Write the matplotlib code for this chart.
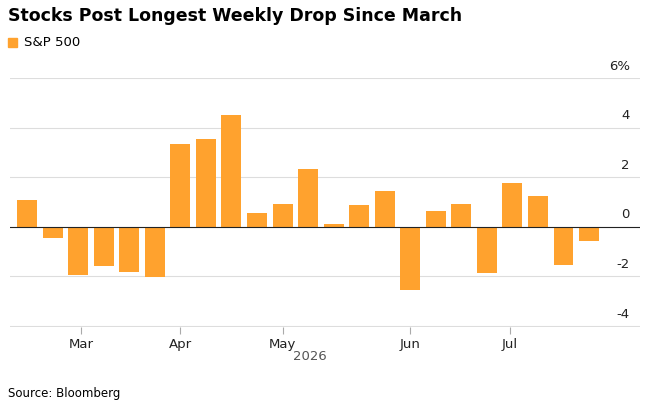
import matplotlib.pyplot as plt

weeks = ["Feb 20", "Feb 27", "Mar 6", "Mar 13", "Mar 20", "Mar 27", "Apr 3", "Apr 10",
         "Apr 17", "Apr 24", "May 1", "May 8", "May 15", "May 22", "May 29", "Jun 5",
         "Jun 12", "Jun 19", "Jun 26", "Jul 3", "Jul 10", "Jul 17", "Jul 24"]
changes = [1.08, -0.44, -1.96, -1.56, -1.84, -2.04, 3.36, 3.56, 4.52, 0.56, 0.92, 2.32,
           0.12, 0.88, 1.44, -2.56, 0.64, 0.92, -1.88, 1.76, 1.24, -1.52, -0.56]
month_labels = ["Mar", "Apr", "May", "Jun", "Jul"]
month_pos = [2.1, 6.0, 10.0, 15.0, 18.9]
y_ticks = [-4, -2, 0, 2, 4, 6]

orange = "#ffa22e"
fig = plt.figure(figsize=(6.45, 4.07), dpi=100)
ax = fig.add_axes([0.0155, 0.196, 0.977, 0.612])
x = list(range(len(weeks)))
ax.bar(x, changes, width=0.78, color=orange, zorder=2)
ax.set_xlim(-0.67, 24.0)
ax.set_ylim(-4.05, 6)

for v in y_ticks:
    ax.axhline(v, color="#dddddd" if v != 0 else "#222222", lw=0.8, zorder=1 if v != 0 else 3)
    lab = f"{v}%" if v == 6 else str(v)
    ax.text(23.6, v + 0.22, lab, ha="right", va="bottom", fontsize=9.5, color="#222222")

ax.set_yticks([])
ax.set_xticks(month_pos)
ax.set_xticklabels(month_labels, fontsize=9.5, color="#222222")
ax.tick_params(axis="x", length=5, color="#aaaaaa", pad=3)
for s in ax.spines.values():
    s.set_visible(False)

fig.text(310 / 645, 1 - 357 / 407, "2026", ha="center", va="center", fontsize=9.5, color="#555555")
fig.text(8 / 645, 1 - 16 / 407, "Stocks Post Longest Weekly Drop Since March", fontsize=12.5,
         fontweight="bold", va="center", ha="left")
fig.patches.append(plt.Rectangle((8 / 645, 1 - 47 / 407), 9 / 645, 9 / 407, color=orange,
                                 transform=fig.transFigure, figure=fig))
fig.text(24 / 645, 1 - 42 / 407, "S&P 500", fontsize=9.5, va="center", ha="left")
fig.text(8 / 645, 1 - 394 / 407, "Source: Bloomberg", fontsize=8.5, va="center", ha="left")

fig.savefig("out.png", dpi=100)
